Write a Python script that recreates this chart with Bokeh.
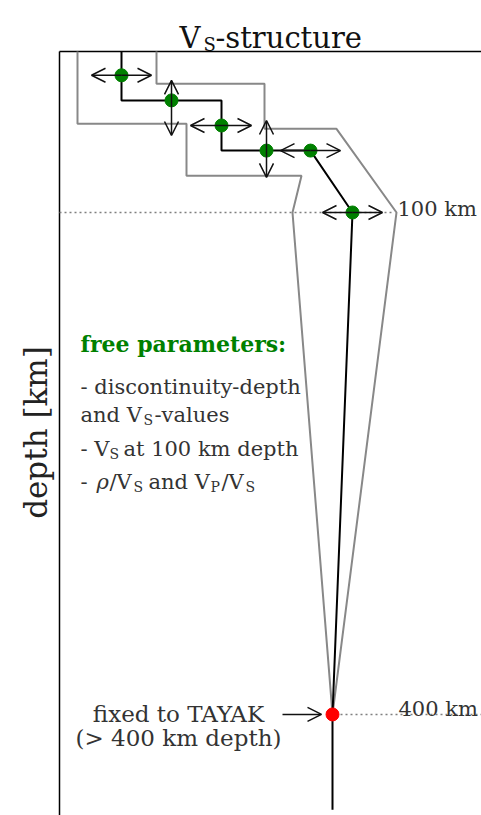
import math
from bokeh.plotting import figure
from bokeh.models import Label, Arrow, OpenHead, Range1d
from bokeh.embed import file_html
from bokeh.resources import INLINE

# model (x: Vs in arbitrary units, y: depth km)
model_vs = [121, 121, 171, 221, 221, 266, 310, 352, 332, 332]
model_depth = [3.8, 33, 33, 33, 63, 63, 63, 100, 400, 457]
env_left_vs = [77, 77, 186, 186, 301, 292, 332]
env_left_depth = [3.8, 47, 47, 78, 78, 100, 400]
env_right_vs = [156, 156, 264, 264, 336, 396, 332]
env_right_depth = [3.8, 23, 23, 50, 50, 100, 400]
free_vs = [121, 171, 221, 266, 310, 352]
free_depth = [18, 33, 48, 63, 63, 100]
fixed_vs = [332]
fixed_depth = [400]
h_arrows = [(91, 151, 18), (190, 251, 48), (280, 340, 63), (322, 382, 100)]
v_arrows = [(171, 21, 54), (266, 45, 79)]
ref_depths = [100, 400]
axis_vs = 59
top_depth, bottom_depth = 3.8, 460.4

p = figure(width=481, height=815, output_backend="svg", toolbar_location=None,
           x_range=Range1d(0, 481), y_range=Range1d(bottom_depth, -26.7),
           min_border_left=0, min_border_top=0, min_border_right=0, min_border_bottom=0,
           x_axis_location=None, y_axis_location=None)
p.grid.visible = False
p.outline_line_color = None
SERIF = "DejaVu Serif"

p.line([axis_vs, axis_vs], [top_depth, bottom_depth], line_color="black", line_width=1.5)
p.line([axis_vs, 481], [top_depth, top_depth], line_color="black", line_width=1.5)

p.line([axis_vs, 394], [ref_depths[0]] * 2, line_color="gray", line_dash="2 3", line_width=1.5)
p.line([340, 481], [ref_depths[1]] * 2, line_color="gray", line_dash="2 3", line_width=1.5)

p.line(env_left_vs, env_left_depth, line_color="#888888", line_width=2)
p.line(env_right_vs, env_right_depth, line_color="#888888", line_width=2)
p.line(model_vs, model_depth, line_color="black", line_width=2)


def arrow(xs, ys, xe, ye):
    p.add_layout(Arrow(x_start=xs, x_end=xe, y_start=ys, y_end=ye, line_width=1.5,
                       line_color="#111111", end=OpenHead(size=14, line_width=1.5, line_color="#111111")))


for x0, x1, y in h_arrows:
    arrow((x0 + x1) / 2, y, x0, y)
    arrow((x0 + x1) / 2, y, x1, y)
for x, y0, y1 in v_arrows:
    arrow(x, (y0 + y1) / 2, x, y0)
    arrow(x, (y0 + y1) / 2, x, y1)
arrow(282, 400, 321, 400)

p.scatter(free_vs, free_depth, size=13, color="green")
p.scatter(fixed_vs, fixed_depth, size=13, color="red")


def lab(x, py, text, size=21, color="#333333", style="normal", align="left",
        angle=0.0, baseline="alphabetic"):
    p.add_layout(Label(x=x, y=815 - py, x_units="screen", y_units="screen", text=text,
                       text_font=SERIF, text_font_size=f"{size}px", text_color=color,
                       text_font_style=style, text_align=align, text_baseline=baseline,
                       angle=angle))


lab(35, 432, "depth [km]", 31, "#222222", align="center", angle=math.pi / 2, baseline="middle")

lab(179, 37, "V", 29, "#111111")
lab(203, 44, "S", 18, "#111111")
lab(215, 37, "-structure", 29, "#111111")

lab(80, 343, "free parameters:", 22, "green", "bold")
lab(80, 386, "- discontinuity-depth")
lab(80, 414, "and V")
lab(143, 419, "S", 14)
lab(154, 414, "-values")
lab(80, 448, "- V")
lab(109, 453, "S", 14)
lab(123, 448, "at 100 km depth")
lab(80, 481, "- ")
lab(96, 481, "ρ", style="italic")
lab(109, 481, "/V")
lab(133, 486, "S", 14)
lab(148, 481, "and V")
lab(210, 486, "P", 14)
lab(221, 481, "/V")
lab(245, 486, "S", 14)

lab(397, 208, "100 km")
lab(398, 708, "400 km")
lab(178, 713, "fixed to TAYAK", 23, align="center")
lab(178, 737, "(> 400 km depth)", 23, align="center")

open("out.html", "w").write(file_html(p, INLINE))
